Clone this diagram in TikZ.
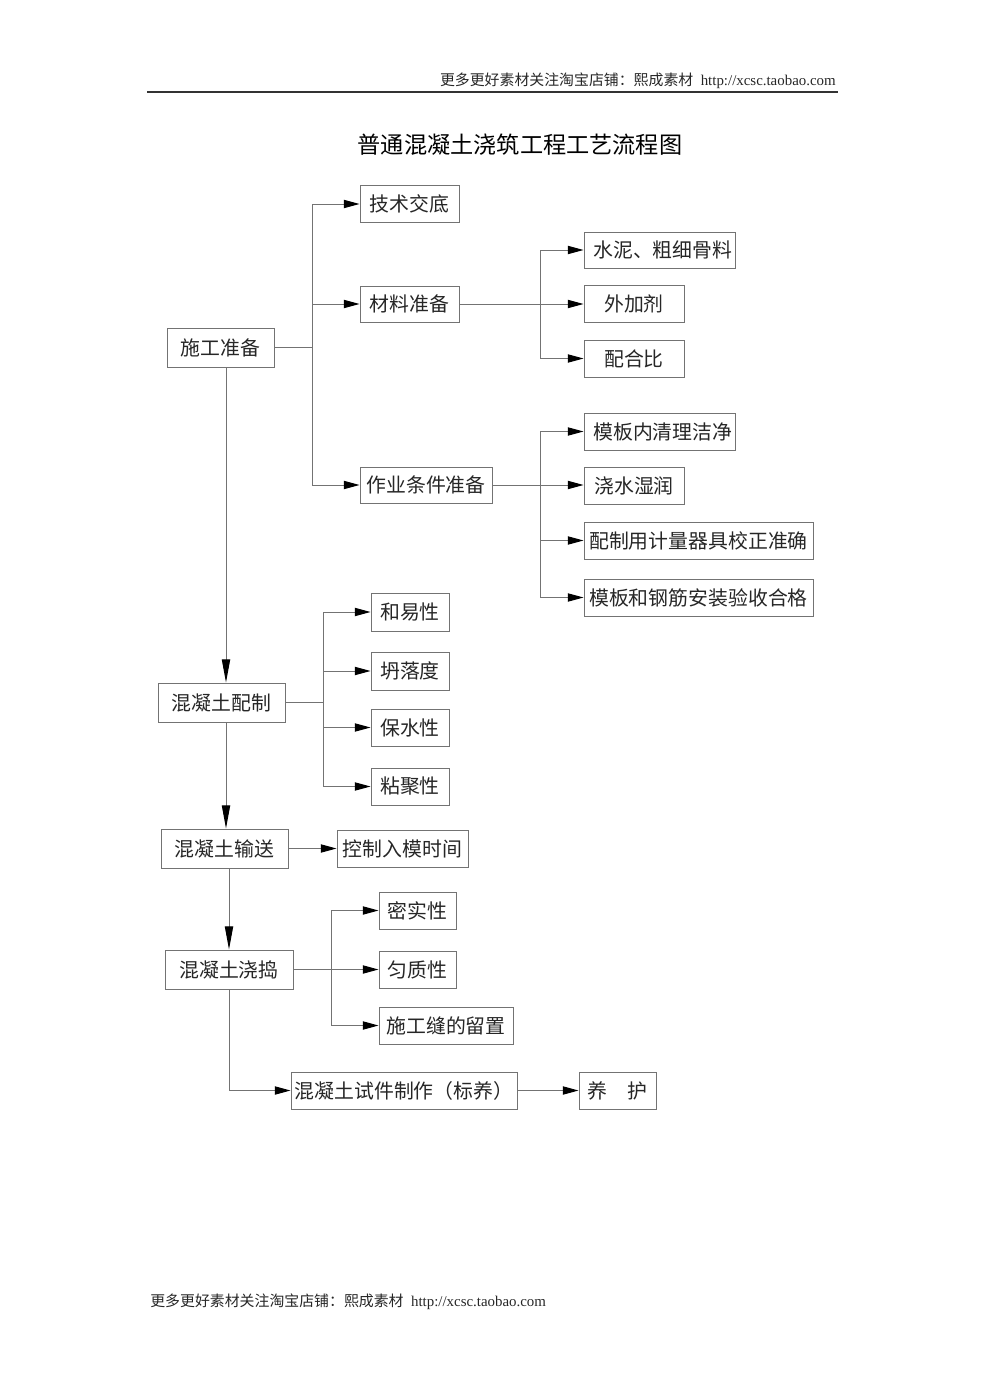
\documentclass[tikz,border=0pt]{standalone}
\usepackage{fontspec}
\setmainfont{Liberation Serif}
\newfontfamily\cjk{Noto Sans CJK SC}
\usetikzlibrary{arrows.meta}
\tikzset{
  box/.style={draw=black!55, line width=0.6pt, inner sep=0pt, font=\cjk\fontsize{12pt}{14pt}\selectfont, text=black!85},
  ln/.style={draw=black!55, line width=0.6pt},
  arr/.style={ln, -{Triangle[length=9.5pt,width=5pt,fill=black,color=black]}},
  varr/.style={ln, -{Triangle[length=14pt,width=5pt,fill=black,color=black]}}
}
\begin{document}
\begin{tikzpicture}[x=0.604pt,y=-0.604pt]
\useasboundingbox (0,0) rectangle (985,1393);
% header / footer
\node[anchor=east, inner sep=0pt, font=\fontsize{9pt}{11pt}\selectfont, text=black!85] (hdr) at (836,81) {{\cjk 更多更好素材关注淘宝店铺：熙成素材}\ \ http://xcsc.taobao.com};
\draw[line width=0.9pt, black!80] (147,92) coordinate (hl) -- (838,92) coordinate (hr);
\node[inner sep=0pt, font=\cjk\fontsize{14pt}{16pt}\selectfont] (title) at (520,145) {普通混凝土浇筑工程工艺流程图};
\node[anchor=west, inner sep=0pt, font=\fontsize{9pt}{11pt}\selectfont, text=black!85] (ftr) at (150,1302) {{\cjk 更多更好素材关注淘宝店铺：熙成素材}\ \ http://xcsc.taobao.com};
% boxes
\node[box, minimum width={107*0.604pt}, minimum height={39*0.604pt}] (sg) at (220.5,347.5) {施工准备};
\node[box, minimum width={99*0.604pt}, minimum height={36*0.604pt}] (js) at (409.5,204) {技术交底};
\node[box, minimum width={99*0.604pt}, minimum height={36*0.604pt}] (cl) at (409.5,304) {材料准备};
\node[box, minimum width={132*0.604pt}, minimum height={36*0.604pt}] (zy) at (426,485) {作业条件准备};
\node[box, minimum width={151*0.604pt}, minimum height={36*0.604pt}] (sn) at (659.5,250) {\hspace{4pt}水泥、粗细骨料};
\node[box, minimum width={100*0.604pt}, minimum height={37*0.604pt}] (wj) at (634,303.5) {外加剂};
\node[box, minimum width={100*0.604pt}, minimum height={37*0.604pt}] (ph) at (634,358.5) {配合比};
\node[box, minimum width={151*0.604pt}, minimum height={37*0.604pt}] (mb) at (659.5,431.5) {\hspace{4pt}模板内清理洁净};
\node[box, minimum width={100*0.604pt}, minimum height={37*0.604pt}] (js2) at (634,485.5) {浇水湿润};
\node[box, minimum width={229*0.604pt}, minimum height={37*0.604pt}] (pz) at (698.5,540.5) {配制用计量器具校正准确};
\node[box, minimum width={229*0.604pt}, minimum height={37*0.604pt}] (mh) at (698.5,597.5) {模板和钢筋安装验收合格};
\node[box, minimum width={127*0.604pt}, minimum height={39*0.604pt}] (pzh) at (221.5,702.5) {混凝土配制};
\node[box, minimum width={78*0.604pt}, minimum height={38*0.604pt}] (hy) at (410,612) {和易性};
\node[box, minimum width={78*0.604pt}, minimum height={38*0.604pt}] (tl) at (410,671) {坍落度};
\node[box, minimum width={78*0.604pt}, minimum height={37*0.604pt}] (bs) at (410,727.5) {保水性};
\node[box, minimum width={78*0.604pt}, minimum height={37*0.604pt}] (nj) at (410,786.5) {粘聚性};
\node[box, minimum width={127*0.604pt}, minimum height={39*0.604pt}] (ss) at (224.5,848.5) {混凝土输送};
\node[box, minimum width={131*0.604pt}, minimum height={37*0.604pt}] (kz) at (402.5,848.5) {控制入模时间};
\node[box, minimum width={128*0.604pt}, minimum height={39*0.604pt}] (jd) at (229,969.5) {混凝土浇捣};
\node[box, minimum width={77*0.604pt}, minimum height={37*0.604pt}] (ms) at (417.5,910.5) {密实性};
\node[box, minimum width={77*0.604pt}, minimum height={37*0.604pt}] (yz) at (417.5,969.5) {匀质性};
\node[box, minimum width={134*0.604pt}, minimum height={37*0.604pt}] (sgf) at (446,1025.5) {施工缝的留置};
\node[box, minimum width={226*0.604pt}, minimum height={37*0.604pt}] (sj) at (404,1090.5) {混凝土试件制作（标养）};
\node[box, minimum width={77*0.604pt}, minimum height={37*0.604pt}] (yh) at (617.5,1090.5) {养\hspace{1em}护};
% connectors
\coordinate (b1) at (312,347.5);
\draw[ln] (sg.east) -- (b1);
\draw[arr] (b1) |- (js.west);
\draw[arr] (b1) |- (cl.west);
\draw[arr] (b1) |- (zy.west);
\coordinate (b2) at (540,304);
\draw[arr] (cl.east) -- (wj.west |- cl.east);
\draw[arr] (b2) |- (sn.west);
\draw[arr] (b2) |- (ph.west);
\coordinate (b3) at (540,485);
\draw[arr] (zy.east) -- (js2.west |- zy.east);
\draw[arr] (b3) |- (mb.west);
\draw[arr] (b3) |- (pz.west);
\draw[arr] (b3) |- (mh.west);
\coordinate (v1) at (226,0);
\coordinate (v2) at (229,0);
\draw[varr] (sg.south -| v1) -- (pzh.north -| v1);
\coordinate (b4) at (323,702.5);
\draw[ln] (pzh.east) -- (b4);
\draw[arr] (b4) |- (hy.west);
\draw[arr] (b4) |- (tl.west);
\draw[arr] (b4) |- (bs.west);
\draw[arr] (b4) |- (nj.west);
\draw[varr] (pzh.south -| v1) -- (ss.north -| v1);
\draw[arr] (ss.east) -- (kz.west);
\draw[varr] (ss.south -| v2) -- (jd.north -| v2);
\coordinate (b5) at (331,969.5);
\draw[arr] (jd.east) -- (yz.west);
\draw[arr] (b5) |- (ms.west);
\draw[arr] (b5) |- (sgf.west);
\draw[arr] (jd.south -| v2) |- (sj.west);
\draw[arr] (sj.east) -- (yh.west);
\end{tikzpicture}
\end{document}
